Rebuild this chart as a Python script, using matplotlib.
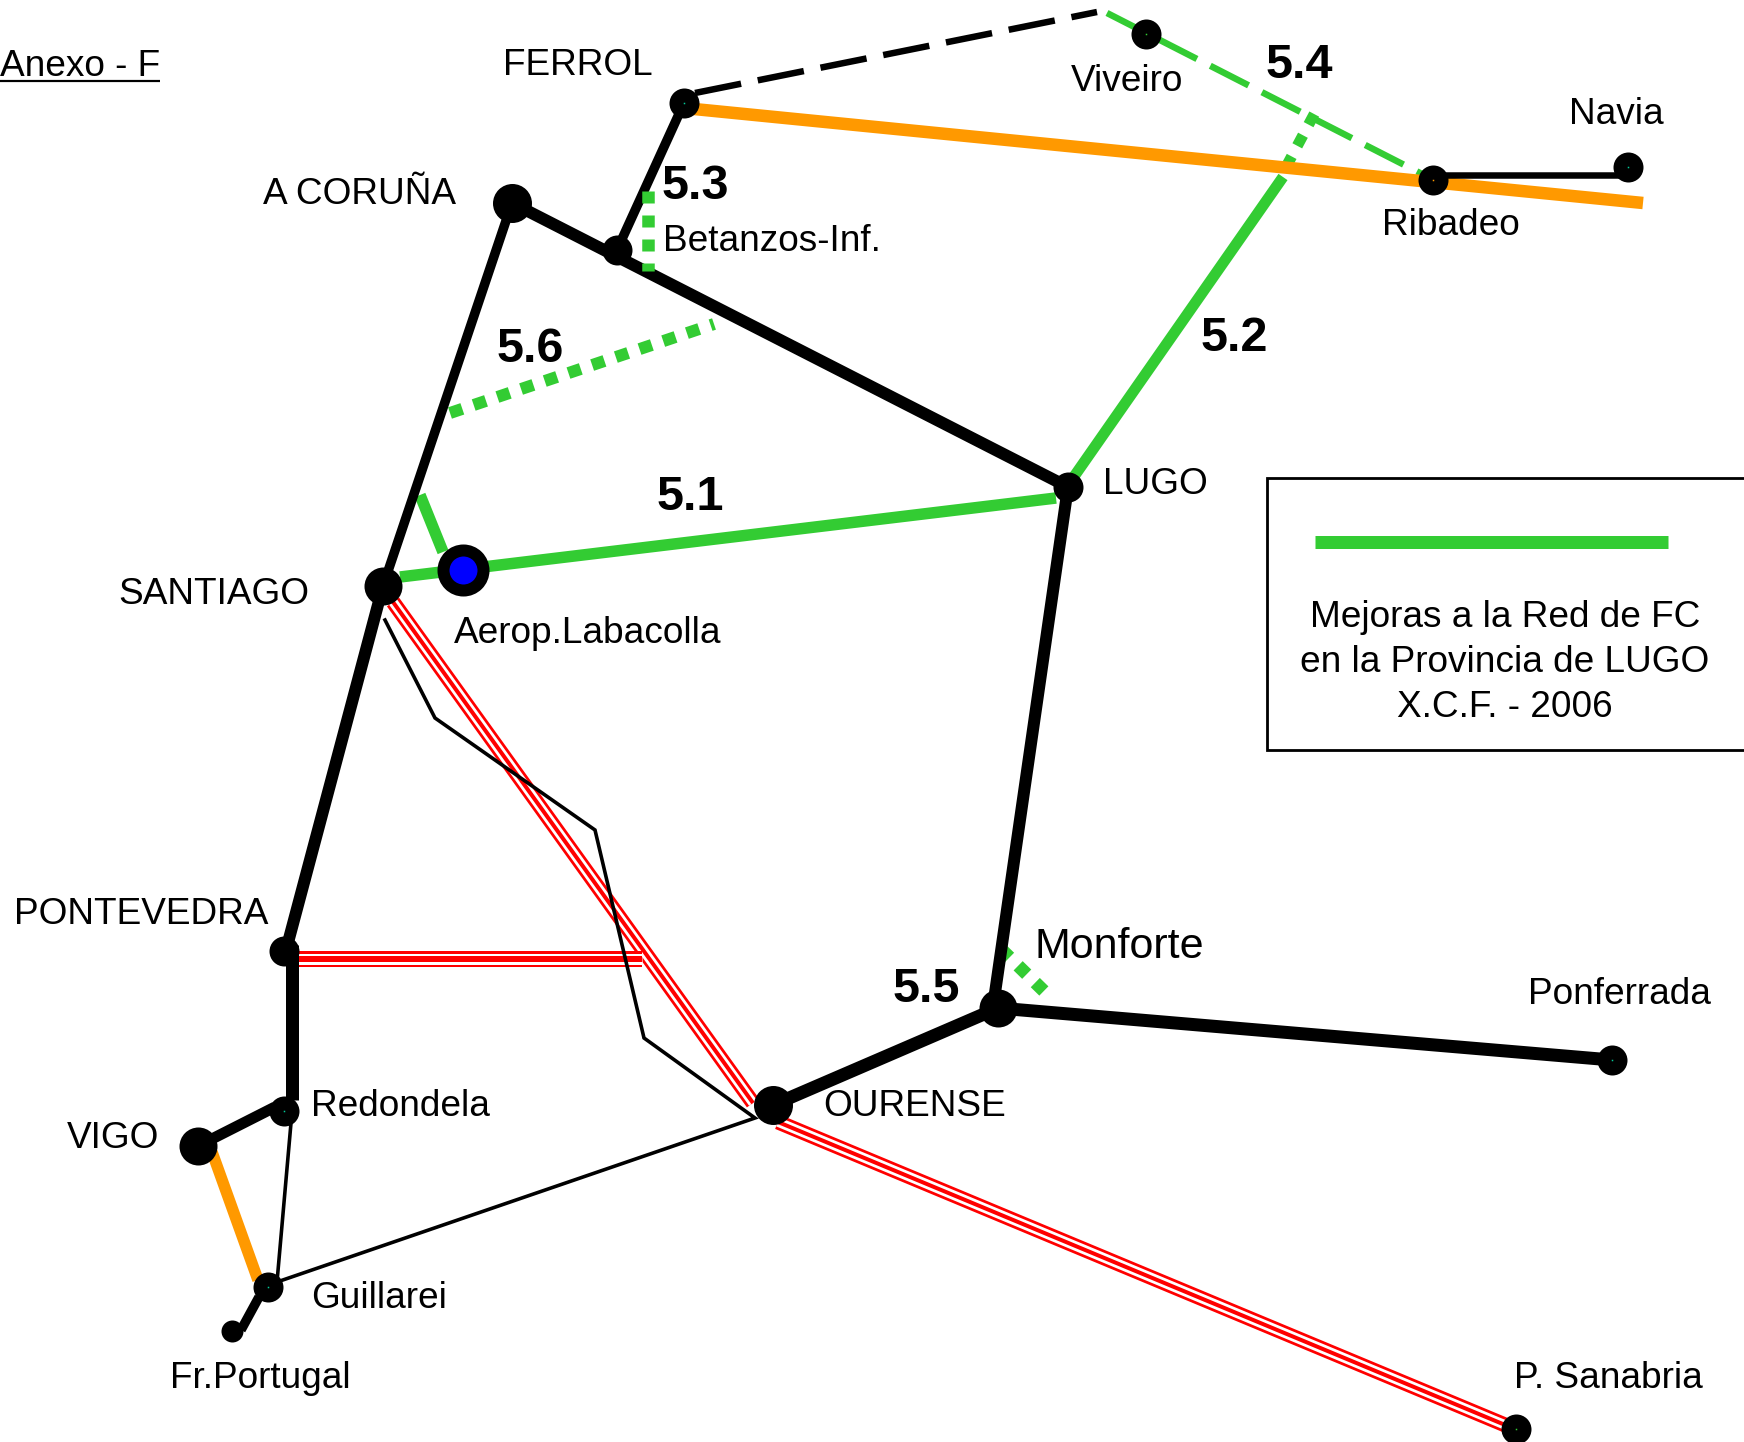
import matplotlib
matplotlib.use('Agg')
import matplotlib.pyplot as plt

plt.rcParams['font.family'] = ['Liberation Sans', 'DejaVu Sans']
plt.rcParams['lines.scale_dashes'] = False

PX = 0.72  # 1 px em pontos com dpi=100

# cores
VERDE = '#33cc33'
LARANJA = '#ff9900'
VERMELHO = '#ff0000'

# nos da rede: nome -> (x, y, diametro)
nos = {
    'ferrol': (684, 103, 30),
    'coruna': (512, 203, 39),
    'betanzos': (617, 250, 30),
    'viveiro': (1146, 34, 30),
    'ribadeo': (1433, 180, 30),
    'navia': (1628, 167, 30),
    'lugo': (1068, 487, 30),
    'santiago': (383, 586, 38),
    'pontevedra': (284, 951, 30),
    'redondela': (284, 1111, 30),
    'vigo': (198, 1146, 38),
    'guillarei': (268, 1287, 30),
    'portugal': (232, 1331, 22),
    'ourense': (773, 1105, 39),
    'monforte': (998, 1008, 38),
    'ponferrada': (1612, 1060, 30),
    'sanabria': (1516, 1429, 30),
}
centros = {
    'ferrol': '#00cc99', 'viveiro': VERDE, 'ribadeo': LARANJA, 'navia': '#00cc99',
    'redondela': '#00cc99', 'guillarei': '#00cc99', 'sanabria': VERDE, 'ponferrada': '#00cc99',
}
aeroporto = (463, 570)

# trechos: (xs, ys, largura)
pretos = [
    ([512, 1068], [203, 487], 12),
    ([684, 617], [103, 250], 9.5),
    ([512, 383], [203, 586], 9.5),
    ([383, 286], [586, 950], 12),
    ([291.5, 291.5], [945, 1100], 13),
    ([275, 198], [1107, 1146], 11),
    ([259, 241], [1297, 1330], 9.5),
    ([773, 998], [1105, 1008], 13),
    ([998, 1612], [1008, 1060], 13),
    ([1068, 995], [487, 993], 12),
    ([1433, 1628], [175, 175], 6.5),
]
finos_x = [385, 435, 595, 644, 755, 277]
finos_y = [620, 718, 830, 1038, 1118, 1282]
fino2_x = [291, 277]
fino2_y = [1123, 1282]

laranja = [
    ([684, 1643], [108, 203], 12.5),
    ([212, 258], [1152, 1280], 11.5),
]
verde_solido = [
    ([400, 1056], [577, 498], 11.5),
    ([420, 443], [495, 552], 11.5),
    ([1073, 1283], [478, 177], 11),
]
# (xs, ys, largura, traco, intervalo)
verde_tracejado = [
    ([1107, 1422], [13, 174], 6.5, 43, 15),
    ([1286, 1318], [167, 107], 11, 12, 12),
    ([450, 714], [413, 324], 12, 13, 12),
    ([1001, 1050], [949, 997], 13, 12, 12),
]
# 5.3 fica por cima da linha preta
verde_sobre = ([648, 648], [191, 271], 12.5, 12, 12)
preto_tracejado = ([695, 1097], [93, 12], 6.5, 47, 17)

# via dupla em vermelho: (xs, ys, total, branco, centro)
vias_vermelhas = [
    ([393, 753], [602, 1103], 15, 9.5, 4),
    ([291, 642], [959, 959], 16, 11, 6),
    ([778, 1510], [1122, 1427], 15, 9.5, 4),
]

nomes_x = [0, 503, 263, 663, 1071, 1569, 1382, 1103, 118, 454, 14, 311, 67, 311, 170, 823, 1528, 1514]
nomes_y = [76, 75, 204, 251, 91, 124, 235, 494, 604, 643, 924, 1116, 1148, 1308, 1388, 1116, 1004, 1388]
nomes = ['Anexo - F', 'FERROL', 'A CORUÑA', 'Betanzos-Inf.', 'Viveiro', 'Navia', 'Ribadeo', 'LUGO',
         'SANTIAGO', 'Aerop.Labacolla', 'PONTEVEDRA', 'Redondela', 'VIGO', 'Guillarei', 'Fr.Portugal',
         'OURENSE', 'Ponferrada', 'P. Sanabria']

numeros = ['5.1', '5.2', '5.3', '5.4', '5.5', '5.6']
numeros_x = [657, 1201, 662, 1266, 893, 497]
numeros_y = [510, 351, 199, 78, 1002, 362]

legenda = ['Mejoras a la Red de FC', 'en la Provincia de LUGO', 'X.C.F. - 2006']
legenda_y = [627, 672, 717]

fig = plt.figure(figsize=(17.44, 14.42), dpi=100)
ax = fig.add_axes([0, 0, 1, 1])
ax.set_xlim(0, 1744)
ax.set_ylim(1442, 0)
ax.axis('off')

for xs, ys, total, branco, centro in vias_vermelhas:
    ax.plot(xs, ys, color=VERMELHO, lw=total * PX, solid_capstyle='butt', zorder=2)
    ax.plot(xs, ys, color='white', lw=branco * PX, solid_capstyle='butt', zorder=2)
    ax.plot(xs, ys, color=VERMELHO, lw=centro * PX, solid_capstyle='butt', zorder=2)

ax.plot(finos_x, finos_y, color='black', lw=3.6 * PX, solid_joinstyle='miter', zorder=3)
ax.plot(fino2_x, fino2_y, color='black', lw=3.6 * PX, zorder=3)

for xs, ys, larg, tr, esp in verde_tracejado:
    ax.plot(xs, ys, color=VERDE, lw=larg * PX, dashes=(tr * PX, esp * PX),
            dash_capstyle='butt', zorder=3)
for xs, ys, larg in verde_solido:
    ax.plot(xs, ys, color=VERDE, lw=larg * PX, solid_capstyle='butt', zorder=3)
for xs, ys, larg in laranja:
    ax.plot(xs, ys, color=LARANJA, lw=larg * PX, solid_capstyle='butt', zorder=4)
for xs, ys, larg in pretos:
    ax.plot(xs, ys, color='black', lw=larg * PX, solid_capstyle='butt', zorder=5)
xs, ys, larg, tr, esp = preto_tracejado
ax.plot(xs, ys, color='black', lw=larg * PX, dashes=(tr * PX, esp * PX), dash_capstyle='butt', zorder=5)
xs, ys, larg, tr, esp = verde_sobre
ax.plot(xs, ys, color=VERDE, lw=larg * PX, dashes=(tr * PX, esp * PX), dash_capstyle='butt', zorder=5.5)

for nome, (x, y, d) in nos.items():
    ax.plot([x], [y], 'o', color='black', ms=d * PX, mew=0, zorder=6)
    if nome in centros:
        ax.plot([x], [y], 's', color=centros[nome], ms=1.5 * PX, mew=0, zorder=7)

# aeroporto
ax.plot([aeroporto[0]], [aeroporto[1]], 'o', color='#0000ff', ms=40 * PX, mew=12 * PX, mec='black', zorder=7)

for x, y, s in zip(nomes_x, nomes_y, nomes):
    ax.text(x, y, s, fontsize=37 * PX, ha='left', va='baseline', color='black', zorder=8)
ax.plot([0, 160], [81, 81], color='black', lw=2.2 * PX, solid_capstyle='butt', zorder=8)
ax.text(1034, 958, 'Monforte', fontsize=43 * PX, ha='left', va='baseline', zorder=8)
for x, y, s in zip(numeros_x, numeros_y, numeros):
    ax.text(x, y, s, fontsize=48.5 * PX, fontweight='bold', ha='left', va='baseline', zorder=8)

# caixa da legenda
ax.plot([1746, 1267, 1267, 1746], [478, 478, 750, 750], color='black', lw=2.8 * PX,
        solid_joinstyle='miter', zorder=8)
ax.plot([1315, 1668], [542, 542], color=VERDE, lw=13 * PX, solid_capstyle='butt', zorder=8)
for y, s in zip(legenda_y, legenda):
    ax.text(1505, y, s, fontsize=37 * PX, ha='center', va='baseline', zorder=8)

fig.savefig('out.png', dpi=100, facecolor='white')
